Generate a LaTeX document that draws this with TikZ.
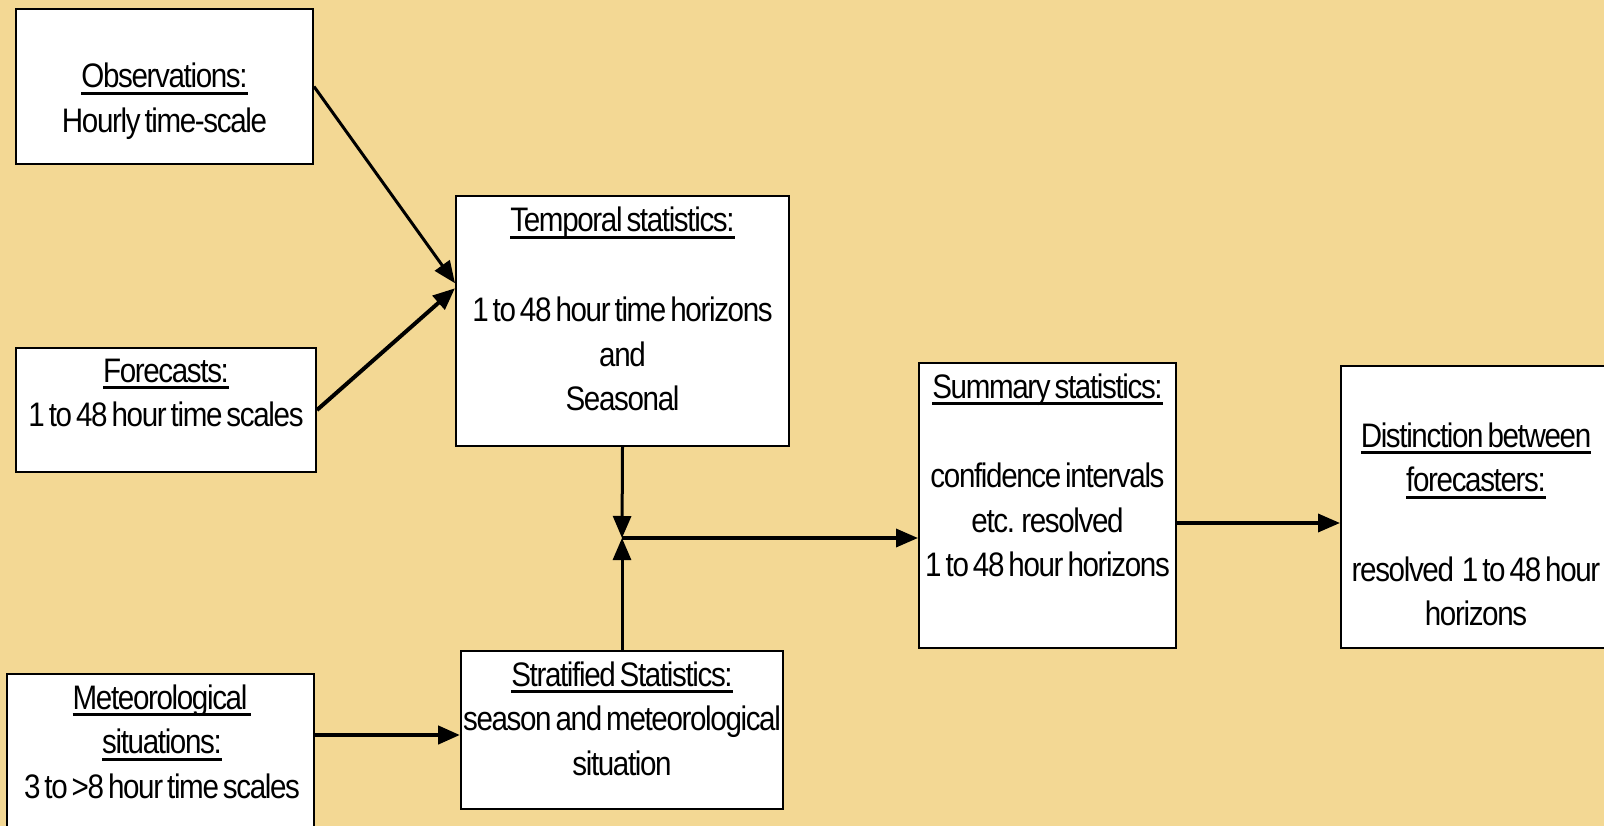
\documentclass[tikz,border=0pt]{standalone}
\usepackage{fontspec}
\setmainfont{Liberation Sans}[FakeStretch=0.87,LetterSpace=-4,WordSpace=0.58]
\usetikzlibrary{arrows.meta,calc}
\definecolor{bg}{RGB}{243,216,148}
\newcommand{\myul}[1]{\leavevmode\setbox0=\hbox{#1}\rlap{\rule[-7pt]{\wd0}{2.8pt}}\box0}
\newcommand{\lblfont}{\fontsize{34}{44.7}\selectfont}
\tikzset{
  box/.style={draw=black, line width=2pt, fill=white, inner sep=0pt},
  lbl/.style={inner sep=0pt, text width=420pt, align=flush center, anchor=base,
              font=\lblfont},
  arr/.style={line width=3pt, -{Triangle[length=22pt,width=18pt]}},
}
\begin{document}
\begin{tikzpicture}[x=1pt,y=-1pt]
\fill[bg] (0,0) rectangle (1604,826);
\clip (0,0) rectangle (1604,826);
% boxes
\node[box, minimum width=297pt, minimum height=155pt] (obs) at (164.5,86.5) {};
\node[box, minimum width=300pt, minimum height=124pt] (fc) at (166,410) {};
\node[box, minimum width=333pt, minimum height=250pt] (temp) at (622.5,321) {};
\node[box, minimum width=322pt, minimum height=158pt] (strat) at (622,730) {};
\node[box, minimum width=307pt, minimum height=186pt] (met) at (160.5,767) {};
\node[box, minimum width=257pt, minimum height=285pt] (summ) at (1047.5,505.5) {};
\node[box, minimum width=270pt, minimum height=282pt] (dist) at (1476,507) {};
% labels
\node[lbl] (obs-t) at (164.5,88) {\myul{Observations:}\\Hourly time-scale};
\node[lbl] (fc-t) at (166,382) {\myul{Forecasts:}\\1 to 48 hour time scales};
\node[lbl] (temp-t) at (622.5,232) {\myul{Temporal statistics:}\\~\\1 to 48 hour time horizons\\and\\Seasonal};
\node[lbl] (strat-t) at (622,686) {\myul{Stratified Statistics:}\\season and meteorological\\situation};
\node[lbl] (met-t) at (162,709) {\myul{Meteorological\ }\\\myul{situations:}\\3 to >8 hour time scales};
\node[lbl] (summ-t) at (1047.5,398) {\myul{Summary statistics:}\\~\\confidence intervals\\etc. resolved\\1 to 48 hour horizons};
\node[lbl] (dist-t) at (1476,447) {\myul{Distinction between}\\\myul{forecasters:}\\~\\resolved\ \ 1 to 48 hour\\horizons};
% connectors
\coordinate (t1) at ($(temp.north west)!0.35!(temp.south west)$);
\coordinate (t2) at ($(temp.north west)!0.37!(temp.south west)$);
\coordinate (jn) at (622,538);
\coordinate (s2) at ($(summ.east)+(0,17.5)$);
\coordinate (m1) at ($(met.east)+(0,-32)$);
\draw[arr] (obs.east) -- (t1);
\draw[arr, line width=4pt] (fc.east) -- (t2);
\draw[arr] (temp.south) -- (jn);
\draw[arr] (strat.north) -- (jn);
\draw[arr, line width=3.5pt] (jn) -- (jn -| summ.west);
\draw[arr, line width=3.5pt] (s2) -- (s2 -| dist.west);
\draw[arr, line width=4.5pt] (m1) -- (m1 -| strat.west);
\end{tikzpicture}
\end{document}
